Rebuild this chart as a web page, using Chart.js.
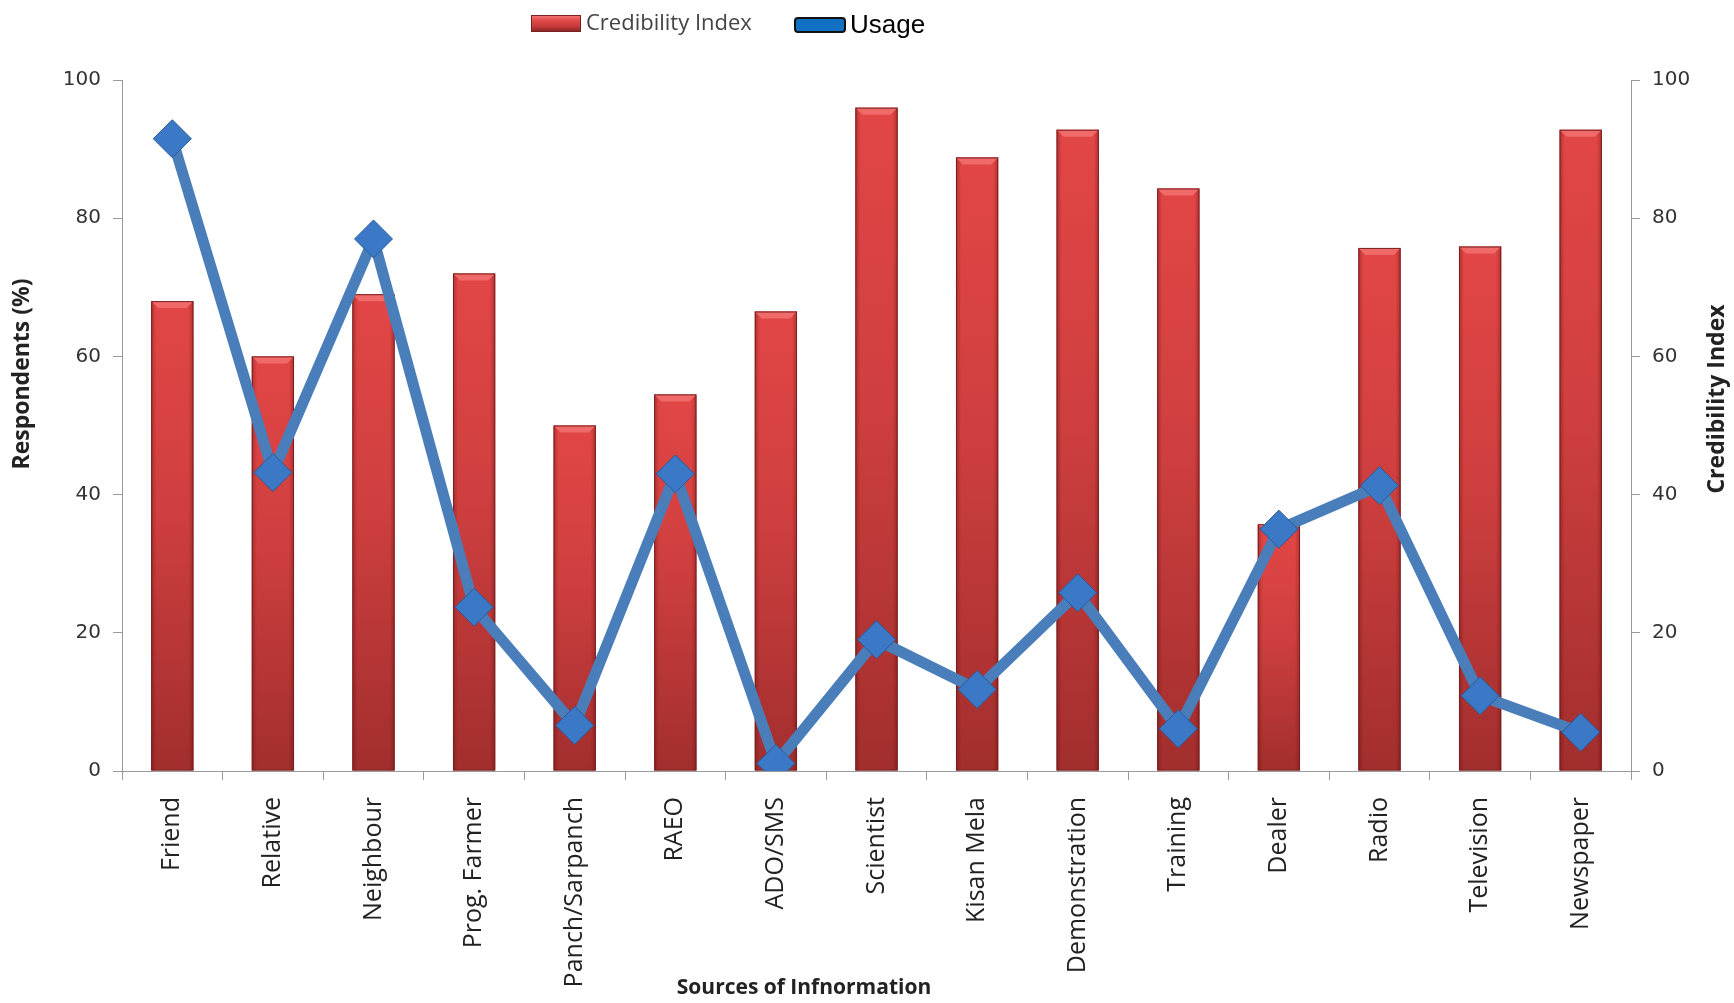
<!DOCTYPE html>
<html>
<head>
<meta charset="utf-8">
<title>Credibility Index and Usage of Information Sources</title>
<script src="https://cdn.jsdelivr.net/npm/chart.js@4.4.0/dist/chart.umd.min.js"></script>
<style>
  body { margin: 0; background: #fff; }
  .wrap { position: relative; width: 1734px; height: 1003px; }
  .legend-box { position: absolute; box-sizing: border-box; }
  .legend-text { position: absolute; white-space: nowrap; }
  #credBox {
    left: 531px; top: 15px; width: 50px; height: 17px;
    background: linear-gradient(#f07070 0%, #e24848 30%, #c43a3a 70%, #8e2626 100%);
    border: 1px solid #7a2020;
  }
  #credText {
    left: 586px; top: 6px; font: 22px "Open Sans", sans-serif; color: #444;
  }
  #usageBox {
    left: 794px; top: 17px; width: 52px; height: 16px;
    background: #1270c4; border: 2px solid #111; border-radius: 4px;
  }
  #usageText {
    left: 850px; top: 9px; font: 26px "Liberation Sans", Arial, sans-serif; color: #000;
  }
</style>
</head>
<body>
<div class="wrap">
  <canvas id="myChart" width="1734" height="1003"></canvas>
  <div class="legend-box" id="credBox"></div>
  <div class="legend-text" id="credText">Credibility Index</div>
  <div class="legend-box" id="usageBox"></div>
  <div class="legend-text" id="usageText">Usage</div>
</div>
<script>
const sources = [
  "Friend", "Relative", "Neighbour", "Prog. Farmer", "Panch/Sarpanch",
  "RAEO", "ADO/SMS", "Scientist", "Kisan Mela", "Demonstration",
  "Training", "Dealer", "Radio", "Television", "Newspaper",
];
// credibility index (bars, right axis)
const credibilityIndex = [68, 60, 69, 72, 50, 54.5, 66.5, 96, 88.8, 92.8, 84.3, 35.7, 75.7, 75.9, 92.8];
// usage in % of respondents (line, left axis)
const usage = [91.5, 43.2, 77, 23.7, 6.6, 43, 1.1, 19, 11.8, 25.8, 6.1, 35, 41.3, 10.9, 5.6];
const yTicks = [0, 20, 40, 60, 80, 100];

const ctx = document.getElementById("myChart");
const axisGrey = "#9a9a9a";

// red gradient for each bar, from its own top down to the base
const barFill = (context) => {
  if (context.type !== "data") return "#c83c3c";
  const chart = context.chart;
  const scale = chart.scales.y2;
  if (!scale || scale.bottom === undefined) return "#c83c3c";
  const top = scale.getPixelForValue(context.raw);
  const base = scale.getPixelForValue(0);
  if (!isFinite(top) || !isFinite(base) || base - top < 1) return "#c83c3c";
  const g = chart.ctx.createLinearGradient(0, top, 0, base);
  g.addColorStop(0, "#e24646");
  g.addColorStop(0.45, "#cf3f3f");
  g.addColorStop(1, "#a22e2e");
  return g;
};

// bevel on top of the bars + darker side edges, like the office 3D look
const bevelPlugin = {
  id: "bevel",
  afterDatasetDraw(chart, args) {
    if (args.index !== 1) return;
    const c = chart.ctx;
    args.meta.data.forEach((bar) => {
      const { x, y, base, width } = bar.getProps(["x", "y", "base", "width"], true);
      const l = x - width / 2;
      const r = x + width / 2;
      const b = 7;
      c.save();
      // side shading
      const side = c.createLinearGradient(l, 0, r, 0);
      side.addColorStop(0, "rgba(90,10,10,0.35)");
      side.addColorStop(0.12, "rgba(90,10,10,0)");
      side.addColorStop(0.88, "rgba(90,10,10,0)");
      side.addColorStop(1, "rgba(90,10,10,0.35)");
      c.fillStyle = side;
      c.fillRect(l, y, width, base - y);
      // top bevel
      c.beginPath();
      c.moveTo(l, y);
      c.lineTo(r, y);
      c.lineTo(r - b, y + b);
      c.lineTo(l + b, y + b);
      c.closePath();
      c.fillStyle = "#f06a6a";
      c.fill();
      c.strokeStyle = "#7a2020";
      c.lineWidth = 1;
      c.strokeRect(l + 0.5, y + 0.5, width - 1, base - y - 1);
      c.restore();
    });
  },
};

// axis titles sit off-centre in the original, so draw them by hand
const axisTitles = {
  id: "axisTitles",
  afterDraw(chart) {
    const c = chart.ctx;
    c.save();
    c.fillStyle = "#222";
    c.textAlign = "center";
    c.textBaseline = "middle";
    c.font = "bold 23px 'Open Sans', sans-serif";
    c.translate(22, 374);
    c.rotate(-Math.PI / 2);
    c.fillText("Respondents (%)", 0, 0);
    c.restore();

    c.save();
    c.fillStyle = "#222";
    c.textAlign = "center";
    c.textBaseline = "middle";
    c.font = "bold 23px 'Open Sans', sans-serif";
    c.translate(1717, 399);
    c.rotate(-Math.PI / 2);
    c.fillText("Credibility Index", 0, 0);
    c.restore();

    c.save();
    c.fillStyle = "#222";
    c.textAlign = "center";
    c.textBaseline = "middle";
    c.font = "bold 21px 'Open Sans', sans-serif";
    c.fillText("Sources of Infnormation", 804, 988);
    c.restore();
  },
};

const tickFont = { family: "'DejaVu Sans', Verdana, sans-serif", size: 20 };

const sharedY = (position, width) => ({
  type: "linear",
  position: position,
  min: 0,
  max: 100,
  afterBuildTicks: (scale) => {
    scale.ticks = yTicks.map((v) => ({ value: v }));
  },
  ticks: { font: tickFont, color: "#333", padding: 12 },
  grid: { drawOnChartArea: false, tickLength: 9, color: axisGrey },
  border: { color: axisGrey, width: 1 },
  afterFit: (scale) => {
    scale.width = width;
  },
});

const sourcesChart = new Chart(ctx, {
  type: "bar",
  data: {
    labels: sources,
    datasets: [
      {
        type: "line",
        label: "Usage",
        data: usage,
        yAxisID: "y",
        order: 0,
        borderColor: "#4a7ebb",
        borderWidth: 11,
        tension: 0,
        pointStyle: "rectRot",
        pointRadius: 19,
        pointBackgroundColor: "#3b78c6",
        pointBorderColor: "#2a5a98",
        pointBorderWidth: 1,
      },
      {
        type: "bar",
        label: "Credibility Index",
        data: credibilityIndex,
        yAxisID: "y2",
        order: 1,
        backgroundColor: barFill,
        borderWidth: 0,
        barPercentage: 0.42,
        categoryPercentage: 1,
      },
    ],
  },
  options: {
    responsive: false,
    animation: false,
    layout: { padding: { top: 80, left: 0, right: 0, bottom: 0 } },
    plugins: {
      legend: { display: false },
      tooltip: { enabled: false },
    },
    scales: {
      x: {
        offset: true,
        grid: { offset: true, drawOnChartArea: false, tickLength: 9, color: axisGrey },
        border: { color: axisGrey, width: 1 },
        ticks: {
          minRotation: 90,
          maxRotation: 90,
          font: { family: "'Open Sans', sans-serif", size: 25 },
          color: "#222",
          padding: 17,
        },
        afterFit: (scale) => {
          scale.height = 232;
        },
      },
      y: sharedY("left", 122),
      y2: sharedY("right", 103),
    },
  },
  plugins: [bevelPlugin, axisTitles],
});
</script>
</body>
</html>
